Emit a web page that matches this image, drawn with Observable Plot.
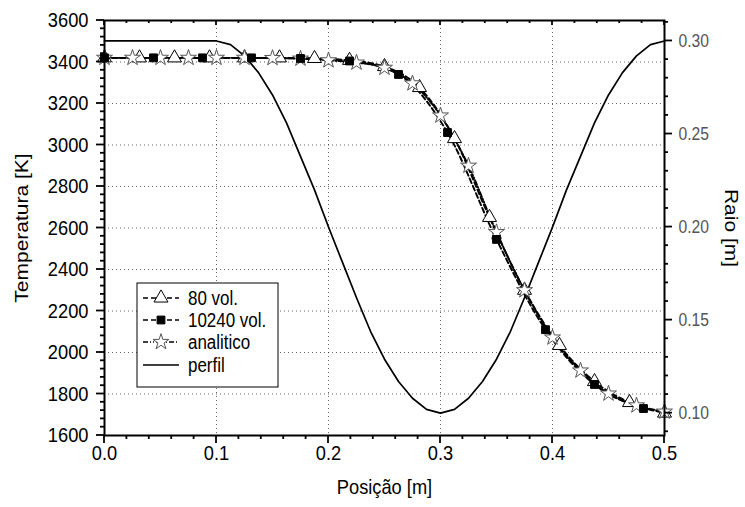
<!DOCTYPE html>
<html><head><meta charset="utf-8">
<script src="https://cdn.jsdelivr.net/npm/d3@7"></script>
<script src="https://cdn.jsdelivr.net/npm/@observablehq/plot@0.6"></script>
<style>body{margin:0;background:#fff}</style>
</head><body><div id="chart"></div>
<script>
// ---- data ----
const xTri = [0, 0.03125, 0.0625, 0.09375, 0.125, 0.15625, 0.1875, 0.21875, 0.25, 0.28125, 0.3125, 0.34375, 0.375, 0.40625, 0.4375, 0.46875, 0.5];
const tTri = [3420, 3420, 3420, 3420, 3420, 3420, 3417, 3408, 3378, 3277, 3031, 2651, 2300, 2034, 1860, 1759, 1708];

const xSq = [0, 0.04375, 0.0875, 0.13125, 0.175, 0.21875, 0.2625, 0.30625, 0.35, 0.39375, 0.4375, 0.48125];
const tSq = [3420, 3420, 3420, 3420, 3417, 3405, 3340, 3060, 2545, 2110, 1846, 1730];

const xStar = [0, 0.025, 0.05, 0.075, 0.1, 0.125, 0.15, 0.175, 0.2, 0.225, 0.25, 0.275, 0.3, 0.325, 0.35, 0.375, 0.4, 0.425, 0.45, 0.475, 0.5];
const tStar = [3420, 3420, 3420, 3420, 3420, 3420, 3419, 3416, 3408, 3397, 3372, 3297, 3142, 2900, 2580, 2300, 2072, 1913, 1802, 1745, 1715];

const xProf = [0, 0.1, 0.1125, 0.125, 0.1375, 0.15, 0.1625, 0.175, 0.1875, 0.2, 0.2125, 0.225, 0.2375, 0.25, 0.2625, 0.275, 0.2875, 0.3, 0.3125, 0.325, 0.3375, 0.35, 0.3625, 0.375, 0.3875, 0.4, 0.4125, 0.425, 0.4375, 0.45, 0.4625, 0.475, 0.4875, 0.5];
const rProf = [0.300, 0.300, 0.298, 0.292, 0.283, 0.271, 0.256, 0.238, 0.220, 0.200, 0.181, 0.162, 0.144, 0.129, 0.117, 0.108, 0.102, 0.100, 0.102, 0.108, 0.117, 0.129, 0.144, 0.162, 0.181, 0.200, 0.220, 0.238, 0.256, 0.271, 0.283, 0.292, 0.298, 0.300];

const xTicks = [0, 0.1, 0.2, 0.3, 0.4, 0.5];
const xTickLabels = ["0.0", "0.1", "0.2", "0.3", "0.4", "0.5"];
const yTicks = [1600, 1800, 2000, 2200, 2400, 2600, 2800, 3000, 3200, 3400, 3600];
const rTicks = [0.10, 0.15, 0.20, 0.25, 0.30];
const rTickLabels = ["0.10", "0.15", "0.20", "0.25", "0.30"];
const seriesNames = ["80 vol.", "10240 vol.", "analitico", "perfil"];
const axisTitles = {x: "Posição [m]", y: "Temperatura [K]", r: "Raio [m]"};

// ---- helpers ----
const R0 = 0.088, R1 = 0.311, T0 = 1600, T1 = 3600;
const toT = r => T0 + (r - R0) / (R1 - R0) * (T1 - T0);

const tri = xTri.map((x, i) => ({x, t: tTri[i]}));
const sq = xSq.map((x, i) => ({x, t: tSq[i]}));
const star = xStar.map((x, i) => ({x, t: tStar[i]}));
const prof = xProf.map((x, i) => ({x, t: toT(rProf[i])}));

const xMinor = d3.range(0, 0.5001, 0.02).filter(v => Math.abs(v * 10 - Math.round(v * 10)) > 1e-6);
const yMinor = d3.range(1600, 3601, 40).filter(v => v % 200 !== 0);
const rMinor = d3.range(0.09, 0.3105, 0.01).filter(v => Math.abs(v * 20 - Math.round(v * 20)) > 1e-6).map(toT);
const rTicksT = rTicks.map(toT);
const [xMin, xMax] = [0, 0.5];
const [yMin, yMax] = [1600, 3600];

const FONT = "'Liberation Sans', Arial, sans-serif";
const FS = 21;        // glyph height like the reference
const SQUEEZE = 0.87; // reference glyphs are narrow
const gridStyle = {stroke: "#000", strokeOpacity: 0.6, strokeDasharray: "1,3", strokeWidth: 1};

const plot = Plot.plot({
  width: 745, height: 507,
  marginLeft: 104, marginRight: 81, marginTop: 20, marginBottom: 72,
  x: {domain: [xMin, xMax]},
  y: {domain: [yMin, yMax]},
  style: {fontFamily: FONT, fontSize: FS + "px", color: "#000", background: "#fff"},
  marks: [
    Plot.gridX(xTicks.slice(1, -1), gridStyle),
    Plot.gridY(yTicks.slice(1, -1), gridStyle),
    Plot.line(prof, {x: "x", y: "t", stroke: "#000", strokeWidth: 1.7}),
    Plot.line(tri, {x: "x", y: "t", stroke: "#000", strokeWidth: 1.9, strokeDasharray: "5,3", curve: "monotone-x"}),
    Plot.line(sq, {x: "x", y: "t", stroke: "#000", strokeWidth: 1.9, strokeDasharray: "5,3", curve: "monotone-x"}),
    Plot.line(star, {x: "x", y: "t", stroke: "#000", strokeWidth: 1.9, strokeDasharray: "5,2,1,2,1,2", curve: "monotone-x"}),
    Plot.dot(tri, {x: "x", y: "t", symbol: "triangle", r: 5.2, fill: "#fff", stroke: "#000", strokeWidth: 1}),
    Plot.dot(star, {x: "x", y: "t", symbol: "star", r: 5, fill: "#fff", stroke: "#555", strokeWidth: 1}),
    Plot.dot(sq, {x: "x", y: "t", symbol: "square", r: 4.4, fill: "#000", stroke: "#000", strokeWidth: 1}),
    Plot.frame({stroke: "#000", strokeWidth: 2}),
    // tick labels
    Plot.axisX(xTicks, {anchor: "bottom", tickSize: 0, tickPadding: 10, fontSize: FS, tickFormat: d => xTickLabels[xTicks.indexOf(d)], label: null}),
    Plot.axisY(yTicks, {anchor: "left", tickSize: 0, tickPadding: 16, fontSize: FS, tickFormat: d => String(d), label: null}),
    Plot.axisY(rTicksT, {anchor: "right", tickSize: 0, tickPadding: 14, fontSize: 18, fill: "#555", tickFormat: d => rTickLabels[rTicksT.indexOf(d)], label: null}),
    // titles
    Plot.text([axisTitles.y], {frameAnchor: "left", dx: -82, rotate: -90, textAnchor: "middle", fontSize: FS, text: d => d, fill: "#000"}),
    Plot.text([axisTitles.r], {frameAnchor: "right", dx: 66, rotate: 90, textAnchor: "middle", fontSize: FS, text: d => d, fill: "#000"}),
    Plot.text([axisTitles.x], {frameAnchor: "bottom", dy: 58, textAnchor: "middle", fontSize: FS, text: d => d, fill: "#000"})
  ]
});

const svg = d3.select(plot);

// narrow the glyphs (keep each label's anchor point)
svg.selectAll("text").each(function () {
  let tr = this.getAttribute("transform");
  if (!tr) {
    const x = +(this.getAttribute("x") || 0), y = +(this.getAttribute("y") || 0);
    this.removeAttribute("x"); this.removeAttribute("y");
    tr = `translate(${x},${y})`;
  }
  const rotated = /rotate\(\s*-?90/.test(tr);
  this.setAttribute("transform", tr + (rotated ? ` scale(1,${SQUEEZE})` : ` scale(${SQUEEZE},1)`));
});

// ---- tick marks drawn from Plot's own scales ----
const sx = v => plot.scale("x").apply(v);
const sy = v => plot.scale("y").apply(v);
const tg = svg.append("g").attr("stroke", "#000").attr("stroke-width", 1.8);
const addTicks = (vals, fx, len) => vals.forEach(v => { const [x1, y1, x2, y2] = fx(v, len); tg.append("line").attr("x1", x1).attr("y1", y1).attr("x2", x2).attr("y2", y2); });
const yb = sy(yMin), yt = sy(yMax), xl = sx(xMin), xr = sx(xMax);
addTicks(xTicks, (v, l) => [sx(v), yb, sx(v), yb + l], 8);
addTicks(xMinor, (v, l) => [sx(v), yb, sx(v), yb + l], 4);
addTicks(xTicks, (v, l) => [sx(v), yt, sx(v), yt + l], 5);
addTicks(xMinor, (v, l) => [sx(v), yt, sx(v), yt + l], 3);
addTicks(yTicks, (v, l) => [xl - l, sy(v), xl, sy(v)], 8);
addTicks(yMinor, (v, l) => [xl - l, sy(v), xl, sy(v)], 4);
addTicks(rTicksT, (v, l) => [xr, sy(v), xr + l, sy(v)], 8);
addTicks(rMinor, (v, l) => [xr, sy(v), xr + l, sy(v)], 4);

// ---- legend ----
const lg = svg.append("g").attr("font-family", FONT).attr("font-size", 19.5).attr("text-anchor", "start");
const bx = 137, by = 283, bw = 141, bh = 104;
lg.append("rect").attr("x", bx).attr("y", by).attr("width", bw).attr("height", bh)
  .attr("fill", "#fff").attr("stroke", "#000").attr("stroke-width", 1);
const rowY = [298, 320, 342, 365];
const legendStyles = [
  {dash: "5,3", sym: d3.symbolTriangle, fill: "#fff", stroke: "#000", size: 5.2 * 5.2 * Math.PI},
  {dash: "5,3", sym: d3.symbolSquare, fill: "#000", stroke: "#000", size: 4.4 * 4.4 * Math.PI},
  {dash: "5,2,1,2,1,2", sym: d3.symbolStar, fill: "#fff", stroke: "#555", size: 5 * 5 * Math.PI},
  {dash: null, sym: null}
];
seriesNames.forEach((name, i) => {
  const y = rowY[i], s = legendStyles[i];
  const ln = lg.append("line").attr("x1", 143).attr("x2", 179).attr("y1", y).attr("y2", y)
    .attr("stroke", "#000").attr("stroke-width", 1.7);
  if (s.dash) ln.attr("stroke-dasharray", s.dash);
  if (s.sym) {
    lg.append("path").attr("d", d3.symbol(s.sym, s.size)()).attr("transform", `translate(161,${y})`)
      .attr("fill", s.fill).attr("stroke", s.stroke).attr("stroke-width", 1);
  }
  lg.append("text").attr("transform", `translate(188,${y}) scale(${SQUEEZE},1)`).attr("dy", "0.35em").attr("fill", "#000").text(name);
});

document.getElementById("chart").appendChild(plot);
</script>
</body></html>
